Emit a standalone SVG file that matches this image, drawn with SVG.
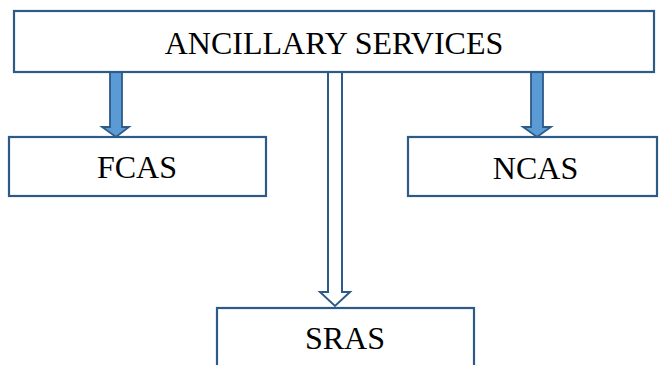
<svg xmlns="http://www.w3.org/2000/svg" width="659" height="365" viewBox="0 0 659 365">
<style>
.box{fill:#fff;stroke:#2E5A87;stroke-width:2.2}
.lbl{font-family:"Liberation Serif","Times New Roman",serif;font-size:32px;fill:#000;text-anchor:middle}
.fa{fill:#5B9BD5;stroke:#2E5A87;stroke-width:1.8;stroke-linejoin:miter}
.ha{fill:#fff;stroke:#2E5A87;stroke-width:2;stroke-linejoin:miter}
</style>
<rect width="659" height="365" fill="#fff"/>
<g id="connectors">
<polygon class="fa" points="110,72 122,72 122,127 129,127 116,137 102,127 110,127"/>
<polygon class="fa" points="531,72 543,72 543,127 551,127 537,137 523,127 531,127"/>
<polygon class="ha" points="328,72 342,72 342,292 350,292 335,306 320,292 328,292"/>
</g>
<g id="ancillary">
<rect class="box" x="14" y="11" width="640" height="61"/>
<text class="lbl" x="334" y="54">ANCILLARY SERVICES</text>
</g>
<g id="fcas">
<rect class="box" x="9" y="137" width="257" height="59"/>
<text class="lbl" x="137" y="178">FCAS</text>
</g>
<g id="ncas">
<rect class="box" x="408" y="137" width="249" height="59"/>
<text class="lbl" x="535.5" y="179">NCAS</text>
</g>
<g id="sras">
<rect class="box" x="217" y="308" width="257" height="70"/>
<text class="lbl" x="345" y="349">SRAS</text>
</g>
</svg>
